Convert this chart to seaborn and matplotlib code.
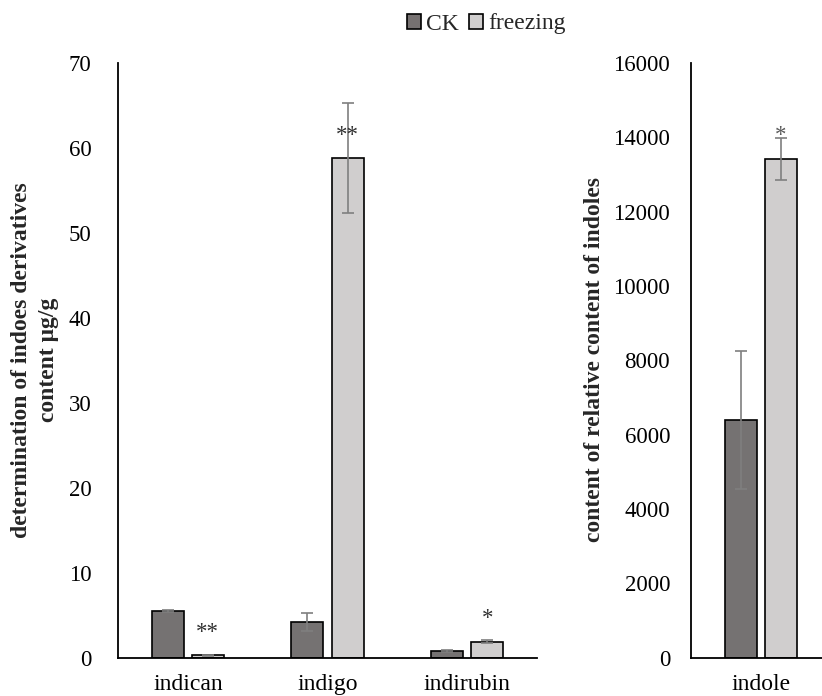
import numpy as np
import pandas as pd
import matplotlib
matplotlib.use("Agg")
import matplotlib.pyplot as plt
import seaborn as sns
from matplotlib.patches import Patch

# ---------------- data ----------------
categories = ["indican", "indigo", "indirubin"]
groups = ["CK", "freezing"]
ck_values = [5.5, 4.2, 0.8]
ck_errors = [0.1, 1.05, 0.1]
freezing_values = [0.25, 58.8, 1.85]
freezing_errors = [0.05, 6.5, 0.2]
freezing_marks = ["**", "**", "*"]

indole_category = ["indole"]
indole_ck_values = [6400]
indole_ck_errors = [1860]
indole_freezing_values = [13420]
indole_freezing_errors = [570]
indole_freezing_marks = ["*"]

left_yticks = [0, 10, 20, 30, 40, 50, 60, 70]
right_yticks = [0, 2000, 4000, 6000, 8000, 10000, 12000, 14000, 16000]

left_ylabel = "determination of indoes derivatives\ncontent \u03bcg/g"
right_ylabel = "content of relative content of indoles"

# ---------------- style ----------------
sns.set_style("white")
plt.rcParams["font.family"] = ["Liberation Serif", "DejaVu Serif"]

CK_COLOR = "#767171"
FR_COLOR = "#D0CECE"
ERR_COLOR = "#7f7f7f"
palette = {"CK": CK_COLOR, "freezing": FR_COLOR}
TICK_FS = 16.5
CAT_FS = 17
LABEL_FS = 17

W, H = 822, 696
fig = plt.figure(figsize=(W / 100, H / 100), dpi=100)

y0_px, ytop_px = 657.5, 63.0
bottom = (H - y0_px) / H
height = (y0_px - ytop_px) / H
ax1 = fig.add_axes([118 / W, bottom, 419 / W, height])
ax2 = fig.add_axes([691 / W, bottom, 140 / W, height])


def build_df(cats, ck, fr):
    return pd.DataFrame({
        "category": cats * 2,
        "group": ["CK"] * len(cats) + ["freezing"] * len(cats),
        "value": list(ck) + list(fr),
    })


def draw(ax, cats, ck, ck_err, fr, fr_err, marks, yticks, mark_color):
    df = build_df(cats, ck, fr)
    sns.barplot(data=df, x="category", y="value", hue="group",
                hue_order=groups, order=cats, palette=palette,
                width=0.573, gap=0.2, edgecolor="black", linewidth=1.2,
                errorbar=None, legend=False, ax=ax)
    errs = [ck_err, fr_err]
    for cont, err in zip(ax.containers, errs):
        xs = [p.get_x() + p.get_width() / 2 for p in cont.patches]
        hs = [p.get_height() for p in cont.patches]
        ax.errorbar(xs, hs, yerr=err, fmt="none", ecolor=ERR_COLOR,
                    elinewidth=1.2, capsize=4.5, capthick=1.2, zorder=5)
    fr_cont = ax.containers[1]
    for p, m in zip(fr_cont.patches, marks):
        if m:
            ax.annotate(m, (p.get_x() + p.get_width() / 2, p.get_height()),
                        xytext=(0, 9), textcoords="offset points",
                        ha="center", va="bottom", fontsize=TICK_FS,
                        color=mark_color, zorder=6)
    n = len(cats)
    ax.set_xlim(-0.5, n - 0.5)
    ax.set_ylim(yticks[0], yticks[-1])
    ax.set_yticks(yticks)
    ax.set_xticks(range(n))
    ax.set_xticklabels(cats)
    ax.set_xticks(np.arange(n + 1) - 0.5, minor=True)
    ax.set_xlabel("")
    ax.set_ylabel("")
    for s in ["top", "right"]:
        ax.spines[s].set_visible(False)
    for s in ["left", "bottom"]:
        ax.spines[s].set_color("black")
        ax.spines[s].set_linewidth(1.3)
    ax.tick_params(axis="x", which="major", length=0, pad=12,
                   labelsize=CAT_FS, colors="black")
    ax.tick_params(axis="x", which="minor", length=5, width=1.3,
                   direction="out", colors="black")
    ax.tick_params(axis="y", which="major", length=5, width=1.3,
                   direction="in", labelsize=TICK_FS, colors="black")
    ax.set_facecolor("white")


draw(ax1, categories, ck_values, ck_errors, freezing_values, freezing_errors,
     freezing_marks, left_yticks, "#303030")
ax1.tick_params(axis="y", pad=19)
draw(ax2, indole_category, indole_ck_values, indole_ck_errors,
     indole_freezing_values, indole_freezing_errors, indole_freezing_marks,
     right_yticks, "#595959")
ax2.tick_params(axis="y", pad=15)

fig.text(35 / W, 1 - 360 / H, left_ylabel, rotation=90, ha="center",
         va="center", fontsize=LABEL_FS, fontweight="bold",
         multialignment="center", linespacing=1.35)
fig.text(595 / W, 1 - 360 / H, right_ylabel, rotation=90, ha="center",
         va="center", fontsize=LABEL_FS, fontweight="bold")

handles = [Patch(facecolor=palette[g], edgecolor="black", linewidth=1.2,
                 label=g) for g in groups]
fig.legend(handles=handles, loc="center", bbox_to_anchor=(486 / W, 1 - 24 / H),
           ncol=2, frameon=False, fontsize=17, handlelength=0.6,
           handleheight=0.6, handletextpad=0.2, columnspacing=0.45,
           borderpad=0.1)

fig.savefig("out.png", dpi=100, facecolor="white")
